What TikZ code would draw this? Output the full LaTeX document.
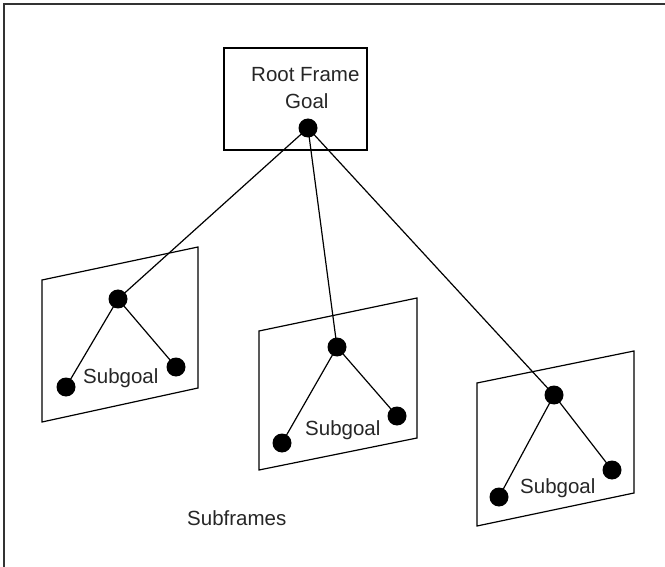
\documentclass[tikz,border=0pt]{standalone}
\usepackage{fontspec}
\setmainfont{Liberation Sans}
\begin{document}
\begin{tikzpicture}[x=1pt,y=-1pt,
  dot/.style={circle,fill=black,inner sep=0pt,minimum size=19pt},
  edge/.style={draw=black,line width=1.2pt},
  plane/.style={draw=black,line width=1.2pt},
  lbl/.style={font=\fontsize{20.5}{23}\selectfont,inner sep=0pt,text=black!85,anchor=base west}]
\useasboundingbox (0,0) rectangle (665,567);
% border (top and left edges)
\draw[line width=2pt,black!80] (4,567) -- (4,4) -- (665,4);
% root frame
\node[draw,line width=1.2pt,minimum width=143pt,minimum height=102pt,inner sep=0pt] (root) at (295.5,99) {};
\node[lbl] (rtxt) at (251,82) {Root Frame};
\node[lbl] (gtxt) at (285,109) {Goal};
\node[dot] (g0) at (308,128) {};
% subframe planes
\draw[plane] (42,280) -- (198,247) -- (198,388) -- (42,422) -- cycle;
\draw[plane] (259,331) -- (417,298) -- (417,438) -- (259,470) -- cycle;
\draw[plane] (477,383) -- (634,351) -- (634,493) -- (477,526) -- cycle;
% subgoal trees
\node[dot] (a0) at (118,299) {};
\node[dot] (a1) at (66,387) {};
\node[dot] (a2) at (176,367) {};
\node[lbl] (at) at (83,383) {Subgoal};
\node[dot] (b0) at (337,347) {};
\node[dot] (b1) at (282,443) {};
\node[dot] (b2) at (397,416) {};
\node[lbl] (bt) at (305,435) {Subgoal};
\node[dot] (c0) at (554,395) {};
\node[dot] (c1) at (499,497) {};
\node[dot] (c2) at (612,470) {};
\node[lbl] (ct) at (520,493) {Subgoal};
\draw[edge] (g0.center) -- (a0.center);
\draw[edge] (g0.center) -- (b0.center);
\draw[edge] (g0.center) -- (c0.center);
\draw[edge] (a0.center) -- (a1.center);
\draw[edge] (a0.center) -- (a2.center);
\draw[edge] (b0.center) -- (b1.center);
\draw[edge] (b0.center) -- (b2.center);
\draw[edge] (c0.center) -- (c1.center);
\draw[edge] (c0.center) -- (c2.center);
\node[lbl] (sf) at (187,525) {Subframes};
\end{tikzpicture}
\end{document}
